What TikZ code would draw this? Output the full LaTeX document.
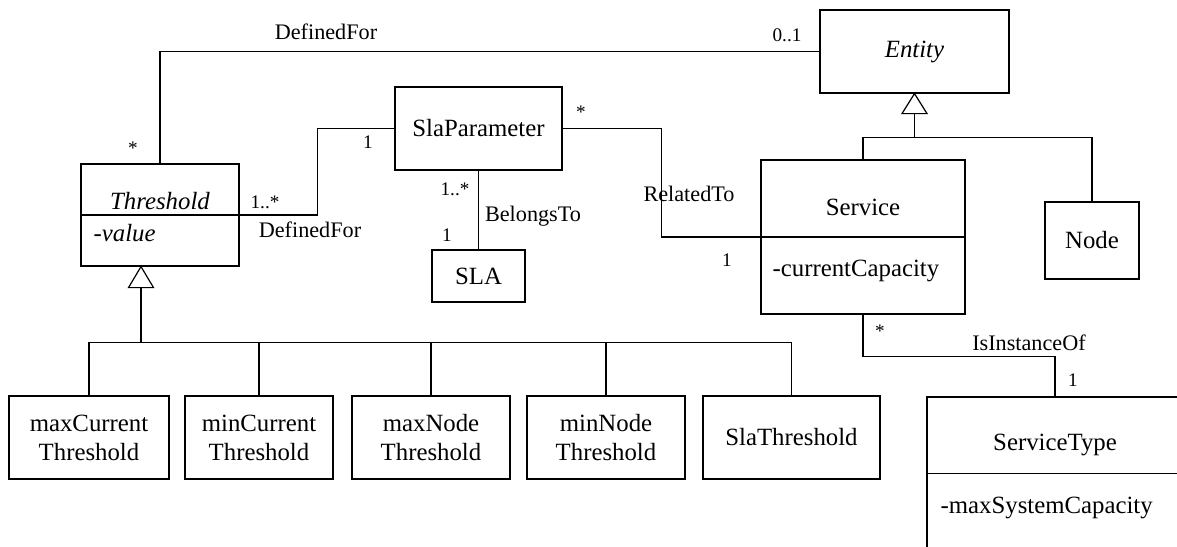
\documentclass[tikz,border=0pt]{standalone}
\usepackage{fontspec}
\setmainfont{Liberation Serif}
\newcommand\mainfs{\fontsize{12.4}{14.5}\selectfont}
\newcommand\labfs{\fontsize{11.1}{13}\selectfont}
\newcommand\mulfs{\fontsize{9.6}{11}\selectfont}
\begin{document}
\begin{tikzpicture}[x=0.5pt,y=-0.5pt,
  line width=0.6pt,
  box/.style={draw, inner sep=0pt, font=\mainfs, align=center},
  txt/.style={inner sep=0pt, font=\mainfs},
  lab/.style={inner sep=0pt, font=\labfs},
  mul/.style={inner sep=0pt, font=\mulfs},
  gen/.style={draw, fill=white}]
\useasboundingbox (0,0) rectangle (1177,546);
\clip (0,0) rectangle (1177,546);
% classes
\node[box, minimum width=94.5pt, minimum height=41.5pt] (Entity) at (914.5,51.5) {\itshape Entity};
\node[box, minimum width=83.5pt, minimum height=41.5pt] (SlaParameter) at (478.5,128.5) {SlaParameter};
\node[box, minimum width=79pt, minimum height=51pt] (Threshold) at (160,215) {};
\node[txt] (ThresholdName) at (160,201) {\itshape Threshold};
\node[txt, anchor=west] (ThresholdAttr) at (93,233) {\itshape -value};
\node[box, minimum width=102pt, minimum height=77pt] (Service) at (863,237) {};
\node[txt] (ServiceName) at (863,207) {Service};
\node[txt, anchor=west] (ServiceAttr) at (772,271) {-currentCapacity};
\node[box, minimum width=47pt, minimum height=38.5pt] (Node) at (1092,240.5) {Node};
\node[box, minimum width=46.5pt, minimum height=26pt] (SLA) at (478.5,276) {SLA};
\node[box, minimum width=128pt, minimum height=100pt] (ServiceType) at (1055,497) {};
\node[txt] (ServiceTypeName) at (1055,445) {ServiceType};
\node[txt, anchor=west] (ServiceTypeAttr) at (940,508) {-maxSystemCapacity};
% dividers
\draw (Threshold.west) -- (Threshold.east);
\draw (Service.west) -- (Service.east);
\draw ([yshift=-38.5pt]ServiceType.north west) -- ([yshift=-38.5pt]ServiceType.north east);
% subclasses of Threshold
\node[box, minimum width=80pt, minimum height=41.5pt] (maxCur) at (89,437.5) {maxCurrent\\Threshold};
\node[box, minimum width=74pt, minimum height=41.5pt] (minCur) at (259,437.5) {minCurrent\\Threshold};
\node[box, minimum width=79pt, minimum height=41.5pt] (maxNode) at (431,437.5) {maxNode\\Threshold};
\node[box, minimum width=79pt, minimum height=41.5pt] (minNode) at (606,437.5) {minNode\\Threshold};
\node[box, minimum width=88.5pt, minimum height=41.5pt] (slaThr) at (791.5,437.5) {SlaThreshold};
% generalization Threshold
\coordinate (gT) at ([xshift=-9.5pt]Threshold.south);
\coordinate (gTb) at ([yshift=-10.5pt]gT);
\coordinate (gTj) at ([yshift=-38pt]gT);
\draw (gTb) -- (gTj);
\draw (maxCur.north) -- (maxCur.north |- gTj) -- (slaThr.north |- gTj) -- (slaThr.north);
\draw (minCur.north) -- (minCur.north |- gTj);
\draw (maxNode.north) -- (maxNode.north |- gTj);
\draw (minNode.north) -- (minNode.north |- gTj);
\draw[gen] (gT) -- ++(-12.5,21) -- ++(25,0) -- cycle;
% generalization Entity
\coordinate (gE) at (Entity.south);
\coordinate (gEb) at ([yshift=-10pt]gE);
\coordinate (gEj) at ([yshift=-22pt]gE);
\draw (gEb) -- (gEj);
\draw (Service.north) -- (Service.north |- gEj) -- (Node.north |- gEj) -- (Node.north);
\draw[gen] (gE) -- ++(-12.5,20) -- ++(25,0) -- cycle;
% associations
\draw (Threshold.north) |- (Entity.west);
\draw (Threshold.east) -- ++(78,0) |- (SlaParameter.west);
\draw (SlaParameter.south) -- (SLA.north);
\draw (SlaParameter.east) -- ++(99,0) |- (Service.west);
\draw (Service.south) -- ++(0,42) -| (ServiceType.north);
% labels
\node[lab] (l1) at (326,32) {DefinedFor};
\node[mul] (m1) at (133,148) {*};
\node[mul] (m2) at (787,35) {0..1};
\node[mul] (m3) at (265,202) {1..*};
\node[lab] (l2) at (310,230) {DefinedFor};
\node[mul] (m4) at (368,142) {1};
\node[mul] (m5) at (455,189) {1..*};
\node[lab] (l3) at (533,216) {BelongsTo};
\node[mul] (m6) at (447,235) {1};
\node[mul] (m7) at (581,112) {*};
\node[lab] (l4) at (689,194) {RelatedTo};
\node[mul] (m8) at (727,260) {1};
\node[mul] (m9) at (880,331) {*};
\node[lab] (l5) at (1029,343) {IsInstanceOf};
\node[mul] (m10) at (1073,380) {1};
\end{tikzpicture}
\end{document}
